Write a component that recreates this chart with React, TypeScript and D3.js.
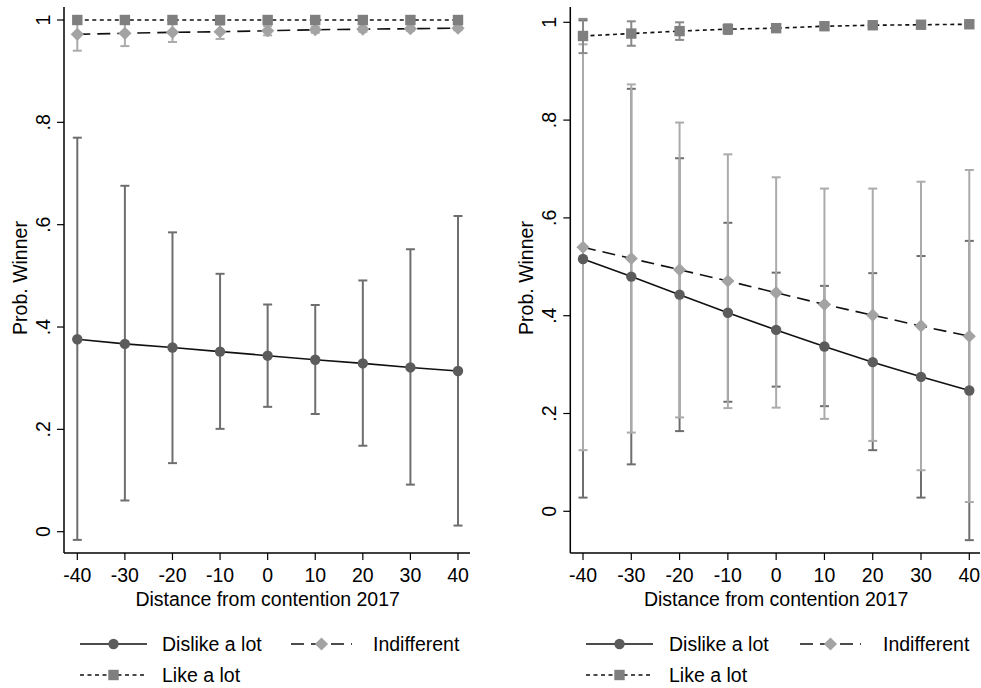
import React from "react";
import * as d3 from "d3";

const xVals = [-40, -30, -20, -10, 0, 10, 20, 30, 40];
const yTicks = [0, 0.2, 0.4, 0.6, 0.8, 1];
const yTickLabels = ["0", ".2", ".4", ".6", ".8", "1"];
const seriesNames = ["Dislike a lot", "Indifferent", "Like a lot"];

const leftDislike = [0.376, 0.367, 0.36, 0.352, 0.344, 0.336, 0.329, 0.321, 0.314];
const leftDislikeLo = [-0.016, 0.061, 0.134, 0.201, 0.244, 0.23, 0.168, 0.092, 0.012];
const leftDislikeHi = [0.77, 0.676, 0.585, 0.504, 0.444, 0.443, 0.491, 0.552, 0.617];
const leftIndiff = [0.972, 0.974, 0.976, 0.977, 0.979, 0.981, 0.982, 0.983, 0.984];
const leftIndiffLo = [0.94, 0.949, 0.957, 0.963, 0.97, 0.975, 0.977, 0.979, 0.98];
const leftIndiffHi = [1.004, 0.999, 0.995, 0.991, 0.988, 0.987, 0.987, 0.987, 0.988];
const leftLike = [1, 1, 1, 1, 1, 1, 1, 1, 1];
const leftLikeLo = [0.999, 0.999, 0.999, 0.999, 0.999, 0.999, 0.999, 0.999, 0.999];
const leftLikeHi = [1.001, 1.001, 1.001, 1.001, 1.001, 1.001, 1.001, 1.001, 1.001];

const rightDislike = [0.516, 0.48, 0.443, 0.406, 0.371, 0.337, 0.305, 0.275, 0.247];
const rightDislikeLo = [0.028, 0.096, 0.164, 0.224, 0.255, 0.215, 0.125, 0.028, -0.059];
const rightDislikeHi = [1.004, 0.864, 0.722, 0.59, 0.488, 0.461, 0.487, 0.522, 0.553];
const rightIndiff = [0.54, 0.517, 0.494, 0.471, 0.447, 0.423, 0.401, 0.379, 0.358];
const rightIndiffLo = [0.125, 0.161, 0.192, 0.211, 0.212, 0.189, 0.144, 0.084, 0.019];
const rightIndiffHi = [0.955, 0.873, 0.795, 0.73, 0.683, 0.66, 0.66, 0.674, 0.698];
const rightLike = [0.972, 0.977, 0.982, 0.986, 0.988, 0.992, 0.994, 0.995, 0.996];
const rightLikeLo = [0.937, 0.952, 0.964, 0.976, 0.982, 0.988, 0.991, 0.993, 0.994];
const rightLikeHi = [1.007, 1.002, 1.0, 0.996, 0.994, 0.996, 0.997, 0.997, 0.998];

const FONT = "'Liberation Sans', Arial, Helvetica, sans-serif";
const FS = 19.5;

type Series = { mean: number[]; lo: number[]; hi: number[] };

const styles = [
  { marker: "circle", fill: "#5c5c5c", ci: "#6e6e6e", dash: "" },
  { marker: "diamond", fill: "#a3a3a3", ci: "#ababab", dash: "13,7" },
  { marker: "square", fill: "#7f7f7f", ci: "#8a8a8a", dash: "4,3.5" },
];

function Marker({ kind, x, y, fill }: { kind: string; x: number; y: number; fill: string }) {
  if (kind === "circle") return <circle cx={x} cy={y} r={5.2} fill={fill} />;
  if (kind === "square") return <rect x={x - 5.2} y={y - 5.2} width={10.4} height={10.4} fill={fill} />;
  const s = 6.6;
  return <path d={`M${x},${y - s}L${x + s},${y}L${x},${y + s}L${x - s},${y}Z`} fill={fill} />;
}

function Panel({
  series,
  axisX,
  x0px,
  x1px,
  y0px,
  y1px,
  axisRight,
  legend,
}: {
  series: Series[];
  axisX: number;
  x0px: number;
  x1px: number;
  y0px: number;
  y1px: number;
  axisRight: number;
  legend: { sample: number; text: number; sample2: number; text2: number };
}) {
  const x = d3.scaleLinear().domain([-40, 40]).range([x0px, x1px]);
  const y = d3.scaleLinear().domain([0, 1]).range([y0px, y1px]);
  const axisTop = 7;
  const axisBottom = 553;
  const capW = 4.5;
  const line = d3
    .line<number>()
    .x((_, i) => x(xVals[i]))
    .y((d) => y(d));
  const midY = 278;

  return (
    <g>
      {series.map((s, si) => (
        <g key={"ci" + si} stroke={styles[si].ci} strokeWidth={2}>
          {xVals.map((xv, i) => (
            <g key={i}>
              <line x1={x(xv)} x2={x(xv)} y1={y(s.lo[i])} y2={y(s.hi[i])} />
              <line x1={x(xv) - capW} x2={x(xv) + capW} y1={y(s.lo[i])} y2={y(s.lo[i])} />
              <line x1={x(xv) - capW} x2={x(xv) + capW} y1={y(s.hi[i])} y2={y(s.hi[i])} />
            </g>
          ))}
        </g>
      ))}
      {series.map((s, si) => (
        <path
          key={"ln" + si}
          d={line(s.mean) || ""}
          fill="none"
          stroke="#111"
          strokeWidth={1.6}
          strokeDasharray={styles[si].dash}
        />
      ))}
      {series.map((s, si) => (
        <g key={"mk" + si}>
          {s.mean.map((v, i) => (
            <Marker key={i} kind={styles[si].marker} x={x(xVals[i])} y={y(v)} fill={styles[si].fill} />
          ))}
        </g>
      ))}
      <line x1={axisX} x2={axisX} y1={axisTop} y2={axisBottom} stroke="#000" strokeWidth={1.5} />
      <line x1={axisX} x2={axisRight} y1={axisBottom} y2={axisBottom} stroke="#000" strokeWidth={1.5} />
      {yTicks.map((t, i) => (
        <g key={"yt" + i}>
          <line x1={axisX - 7} x2={axisX} y1={y(t)} y2={y(t)} stroke="#000" strokeWidth={1.2} />
          <text
            transform={`translate(${axisX - 14},${y(t)}) rotate(-90)`}
            textAnchor="middle"
            fontFamily={FONT}
            fontSize={FS}
            fill="#000"
          >
            {yTickLabels[i]}
          </text>
        </g>
      ))}
      {xVals.map((t, i) => (
        <g key={"xt" + i}>
          <line x1={x(t)} x2={x(t)} y1={axisBottom} y2={axisBottom + 7} stroke="#000" strokeWidth={1.2} />
          <text x={x(t)} y={582} textAnchor="middle" fontFamily={FONT} fontSize={FS} fill="#000">
            {String(t)}
          </text>
        </g>
      ))}
      <text
        x={(x0px + x1px) / 2}
        y={606}
        textAnchor="middle"
        fontFamily={FONT}
        fontSize={FS}
        fill="#000"
      >
        Distance from contention 2017
      </text>
      <text
        transform={`translate(${axisX - 37},${midY}) rotate(-90)`}
        textAnchor="middle"
        fontFamily={FONT}
        fontSize={FS}
        fill="#000"
      >
        Prob. Winner
      </text>
      {[0, 1, 2].map((si) => {
        const row = si === 2 ? 1 : 0;
        const col = si === 1 ? 1 : 0;
        const ly = row === 0 ? 644 : 675;
        const sx = col === 0 ? legend.sample : legend.sample2;
        const tx = col === 0 ? legend.text : legend.text2;
        const sw = col === 0 ? 67 : 61;
        return (
          <g key={"lg" + si}>
            <line
              x1={sx}
              x2={sx + sw}
              y1={ly}
              y2={ly}
              stroke="#111"
              strokeWidth={1.6}
              strokeDasharray={styles[si].dash}
            />
            <Marker kind={styles[si].marker} x={sx + sw / 2} y={ly} fill={styles[si].fill} />
            <text x={tx} y={ly + 7} fontFamily={FONT} fontSize={FS} fill="#000">
              {seriesNames[si]}
            </text>
          </g>
        );
      })}
    </g>
  );
}

export default function App() {
  const left: Series[] = [
    { mean: leftDislike, lo: leftDislikeLo, hi: leftDislikeHi },
    { mean: leftIndiff, lo: leftIndiffLo, hi: leftIndiffHi },
    { mean: leftLike, lo: leftLikeLo, hi: leftLikeHi },
  ];
  const right: Series[] = [
    { mean: rightDislike, lo: rightDislikeLo, hi: rightDislikeHi },
    { mean: rightIndiff, lo: rightIndiffLo, hi: rightIndiffHi },
    { mean: rightLike, lo: rightLikeLo, hi: rightLikeHi },
  ];
  return (
    <svg
      width={981}
      height={688}
      style={{ position: "absolute", left: 0, top: 0, background: "#fff" }}
    >
      <rect width={981} height={688} fill="#fff" />
      <Panel
        series={left}
        axisX={64}
        x0px={77.3}
        x1px={458}
        y0px={531.7}
        y1px={20}
        axisRight={470}
        legend={{ sample: 80, text: 162, sample2: 291, text2: 373 }}
      />
      <Panel
        series={right}
        axisX={570.3}
        x0px={583}
        x1px={969.3}
        y0px={511.3}
        y1px={22.3}
        axisRight={980}
        legend={{ sample: 586, text: 669, sample2: 800, text2: 883 }}
      />
    </svg>
  );
}
